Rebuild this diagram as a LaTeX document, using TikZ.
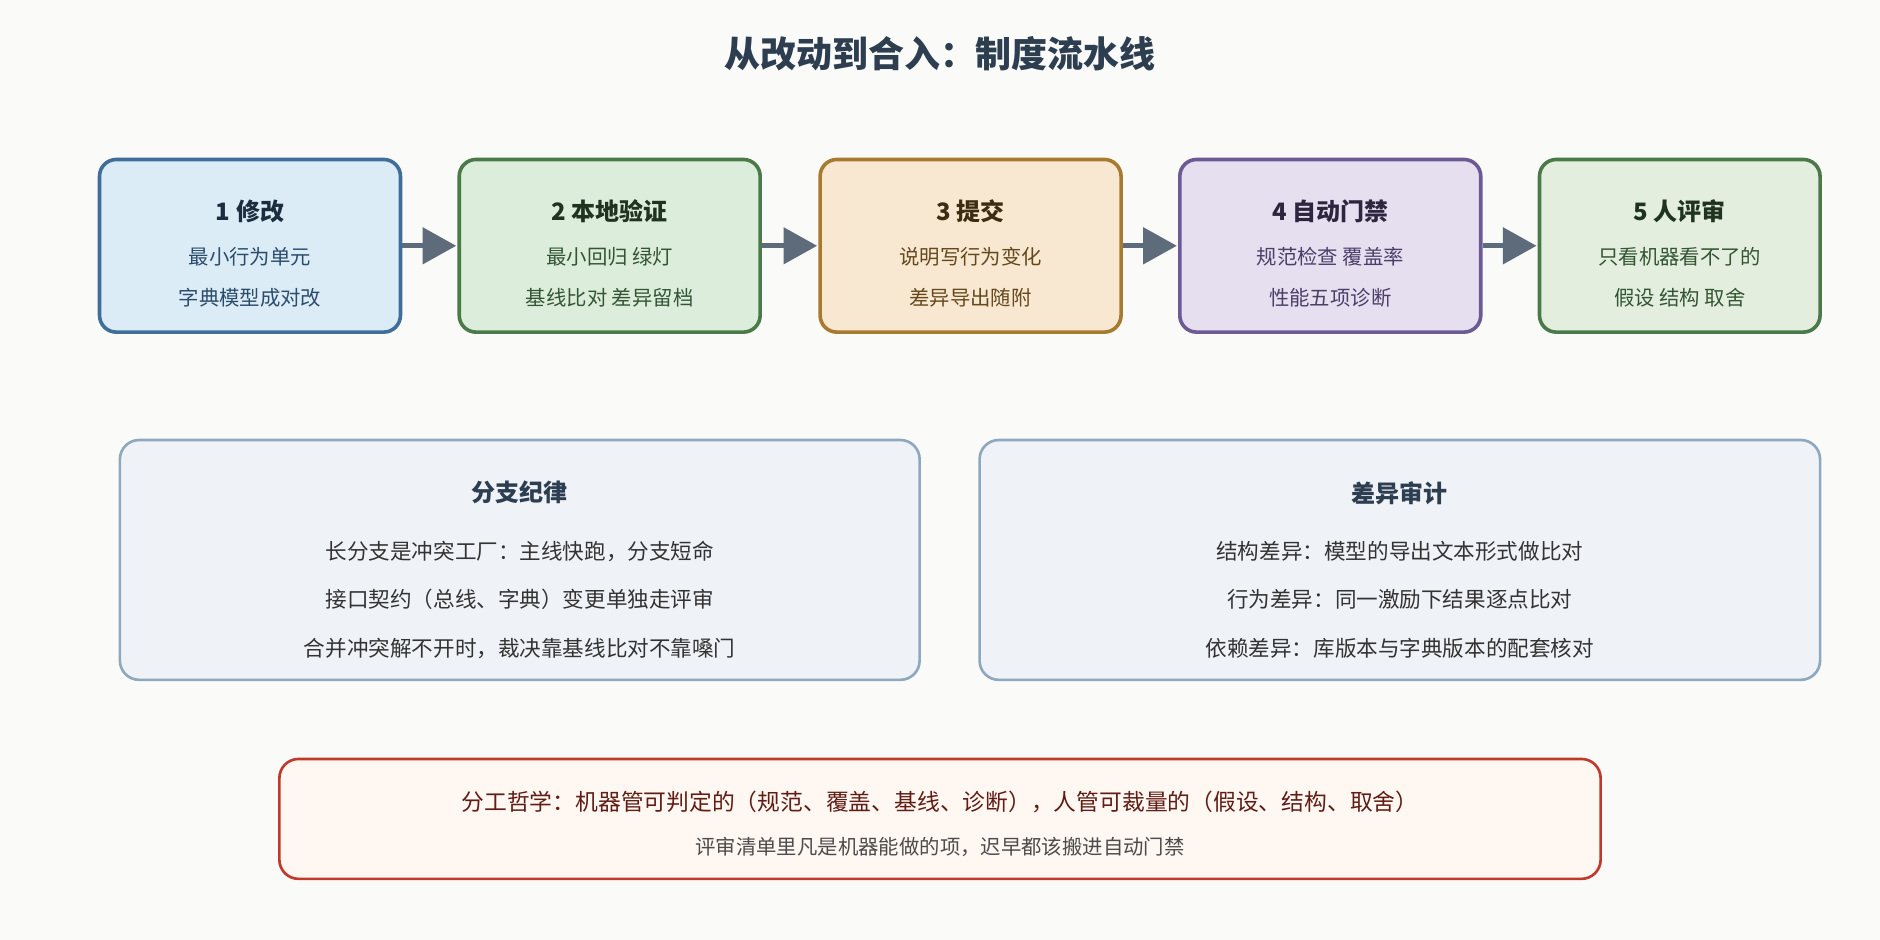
\documentclass[tikz,border=0pt]{standalone}
\usepackage{fontspec}
\setmainfont{Noto Sans CJK SC}
\usetikzlibrary{arrows.meta,positioning}
\definecolor{bgc}{HTML}{FAFAF8}
\definecolor{titlec}{HTML}{2C3E50}
\definecolor{arrowc}{HTML}{5D6B7A}
\definecolor{fa}{HTML}{DCECF6}\definecolor{da}{HTML}{3E6E99}
\definecolor{fb}{HTML}{DDEDDC}\definecolor{db}{HTML}{4A7A4A}
\definecolor{fc}{HTML}{F8E8D2}\definecolor{dc}{HTML}{A87A30}
\definecolor{fd}{HTML}{E6DFF0}\definecolor{dd}{HTML}{6C5A94}
\definecolor{fe}{HTML}{E3EEDF}\definecolor{de}{HTML}{4A7A4A}
\definecolor{fm}{HTML}{EFF3F8}\definecolor{dm}{HTML}{8FA8BF}
\definecolor{fn}{HTML}{FFF7F2}\definecolor{dn}{HTML}{C0392B}
\begin{document}
\begin{tikzpicture}[
      x=1pt,y=-1pt,
      stepbox/.style={
         rectangle,
         rounded corners=14pt,
         line width=3pt,
         minimum height=144pt,
         minimum width=251pt},
      infobox/.style={
         rectangle,
         rounded corners=16pt,
         line width=2.2pt,
         fill=fm,
         draw=dm,
         minimum height=200pt},
      steptitle/.style={font=\fontsize{20}{24}\selectfont\bfseries},
      steptext/.style={font=\fontsize{17}{20}\selectfont},
      infotext/.style={font=\fontsize{18}{22}\selectfont,text=black!80},
      myarrow/.style={-{Triangle[length=28pt,width=30pt]},line width=4pt,draw=arrowc,shorten >=1pt}
      ]
      \fill[bgc] (0,0) rectangle (1568,784);
      \node[font=\fontsize{30}{36}\selectfont\bfseries,text=titlec] (title) at (784,45) {从改动到合入：制度流水线};
      % steps
      \node[stepbox,fill=fa,draw=da] (s1) at (208.5,205) {};
      \node[stepbox,fill=fb,draw=db] (s2) at (508.5,205) {};
      \node[stepbox,fill=fc,draw=dc] (s3) at (809.5,205) {};
      \node[stepbox,fill=fd,draw=dd] (s4) at (1109.5,205) {};
      \node[stepbox,fill=fe,draw=de,minimum width=234pt] (s5) at (1401,205) {};
      \foreach \n/\x/\t/\a/\b/\c in {
        s1/208.5/1 修改/最小行为单元/字典模型成对改/da!70!black,
        s2/508.5/2 本地验证/最小回归 绿灯/基线比对 差异留档/db!70!black,
        s3/809.5/3 提交/说明写行为变化/差异导出随附/dc!60!black,
        s4/1109.5/4 自动门禁/规范检查 覆盖率/性能五项诊断/dd!70!black,
        s5/1401/5 人评审/只看机器看不了的/假设 结构 取舍/de!70!black}
      {
        \node[steptitle,text=\c!60!black] (\n t) at (\x,176) {\t};
        \node[steptext,text=\c] (\n a) at (\x,214) {\a};
        \node[steptext,text=\c] (\n b) at (\x,248) {\b};
      }
      \foreach \i/\j in {s1/s2,s2/s3,s3/s4,s4/s5}
        \draw[myarrow] (\i) -- (\j);
      % info boxes
      \node[infobox,minimum width=667pt] (branch) at (433.5,467) {};
      \node[steptitle,text=titlec] (brancht) at (433.5,411) {分支纪律};
      \node[infotext] (branch1) at (433.5,460) {长分支是冲突工厂：主线快跑，分支短命};
      \node[infotext] (branch2) at (433.5,500) {接口契约（总线、字典）变更单独走评审};
      \node[infotext] (branch3) at (433.5,541) {合并冲突解不开时，裁决靠基线比对不靠嗓门};
      \node[infobox,minimum width=701pt] (diff) at (1167.5,467) {};
      \node[steptitle,text=titlec] (difft) at (1167.5,411) {差异审计};
      \node[infotext] (diff1) at (1167.5,460) {结构差异：模型的导出文本形式做比对};
      \node[infotext] (diff2) at (1167.5,500) {行为差异：同一激励下结果逐点比对};
      \node[infotext] (diff3) at (1167.5,541) {依赖差异：库版本与字典版本的配套核对};
      % note
      \node[rectangle,rounded corners=16pt,line width=2.2pt,fill=fn,draw=dn,minimum width=1102pt,minimum height=100pt] (note) at (784,683) {};
      \node[font=\fontsize{19}{23}\selectfont,text=dn!50!black] (note1) at (784,669) {分工哲学：机器管可判定的（规范、覆盖、基线、诊断），人管可裁量的（假设、结构、取舍）};
      \node[font=\fontsize{17}{20}\selectfont,text=black!70] (note2) at (784,706) {评审清单里凡是机器能做的项，迟早都该搬进自动门禁};
\end{tikzpicture}
\end{document}
